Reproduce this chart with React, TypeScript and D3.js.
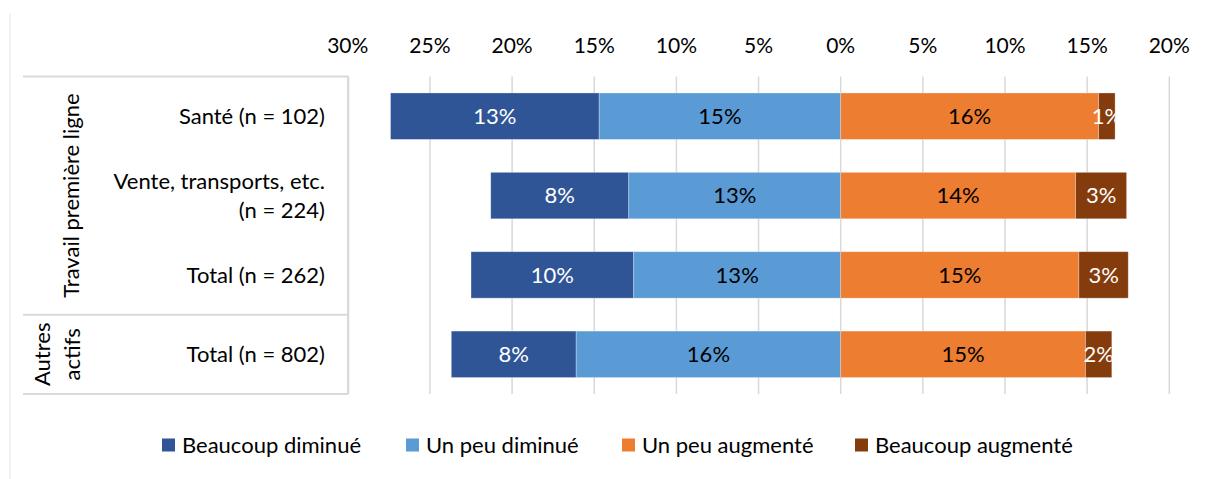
import React from "react";
import * as d3 from "d3";

const categories = ["Santé (n = 102)", "Vente, transports, etc. (n = 224)", "Total (n = 262)", "Total (n = 802)"];
const categoryLines = [["Santé (n = 102)"], ["Vente, transports, etc.", "(n = 224)"], ["Total (n = 262)"], ["Total (n = 802)"]];
const beaucoupDiminue = [12.7, 8.4, 9.9, 7.6];
const unPeuDiminue = [14.7, 12.9, 12.6, 16.1];
const unPeuAugmente = [15.7, 14.3, 14.5, 14.9];
const beaucoupAugmente = [1.0, 3.1, 3.0, 1.6];
const tickValues = [-30, -25, -20, -15, -10, -5, 0, 5, 10, 15, 20];
const seriesNames = ["Beaucoup diminué", "Un peu diminué", "Un peu augmenté", "Beaucoup augmenté"];
const colors = ["#2F5597", "#5B9BD5", "#ED7D31", "#843C0C"];
const labelColors = ["#ffffff", "#000000", "#000000", "#ffffff"];
const groups = [
  { lines: ["Travail première ligne"], from: 0, to: 3 },
  { lines: ["Autres", "actifs"], from: 3, to: 4 },
];

const FONT = "Lato, 'Open Sans', sans-serif";
const FS = 22;

export default function App() {
  const W = 1206, H = 479;
  const x = d3.scaleLinear().domain([-30, 20]).range([347.8, 1169.3]);
  const y = d3.scaleBand<string>().domain(categories).range([76.5, 394]).paddingInner(0.415).paddingOuter(0.2075);
  const bw = y.bandwidth();
  const step = y.step();
  const tableLeft = 23, tableRight = 348.3;
  const top = 76.5, bottom = 394;

  const segs: any[] = [];
  categories.forEach((c, i) => {
    const ld = unPeuDiminue[i];
    const dd = beaucoupDiminue[i];
    const la = unPeuAugmente[i];
    const da = beaucoupAugmente[i];
    segs.push({ c, i, s: 0, x0: -(ld + dd), x1: -ld, v: dd });
    segs.push({ c, i, s: 1, x0: -ld, x1: 0, v: ld });
    segs.push({ c, i, s: 2, x0: 0, x1: la, v: la });
    segs.push({ c, i, s: 3, x0: la, x1: la + da, v: da });
  });

  const legendX = [162, 406, 622, 855];

  return (
    <div style={{ position: "absolute", left: 0, top: 0 }}>
      <svg width={W} height={H} style={{ display: "block", fontFamily: FONT }}>
        <rect x={0} y={0} width={W} height={H} fill="#fff" />
        <line x1={10} x2={10} y1={14} y2={H} stroke="#e3e3e3" strokeWidth={1} />
        {tickValues.map((t) => (
          <line key={"g" + t} x1={x(t)} x2={x(t)} y1={top} y2={bottom} stroke="#d9d9d9" strokeWidth={1.5} />
        ))}
        {tickValues.map((t) => (
          <text key={"t" + t} x={x(t)} y={52.5} textAnchor="middle" fontSize={21} fill="#000">
            {Math.abs(t) + "%"}
          </text>
        ))}
        <line x1={tableLeft} x2={tableRight} y1={top} y2={top} stroke="#d9d9d9" strokeWidth={2} />
        <line x1={tableRight} x2={tableRight} y1={top} y2={bottom} stroke="#d9d9d9" strokeWidth={2} />
        <line x1={tableLeft} x2={tableRight} y1={top + 3 * step} y2={top + 3 * step} stroke="#d9d9d9" strokeWidth={2} />
        <line x1={tableLeft} x2={tableRight} y1={bottom} y2={bottom} stroke="#d9d9d9" strokeWidth={2} />
        {categories.map((c, i) => {
          const lines = categoryLines[i];
          const cy = (y(c) as number) + bw / 2;
          const lh = 29;
          return (
            <text key={"c" + i} x={325} textAnchor="end" fontSize={FS} fill="#000">
              {lines.map((l, j) => (
                <tspan key={j} x={325} y={cy + (j - (lines.length - 1) / 2) * lh} dy="0.35em">
                  {l}
                </tspan>
              ))}
            </text>
          );
        })}
        {groups.map((g, gi) => {
          const cy = top + ((g.from + g.to) / 2) * step;
          const cx = g.lines.length === 1 ? 71 : 57;
          const lh = 30;
          return (
            <text key={"gr" + gi} transform={`translate(${cx},${cy}) rotate(-90)`} textAnchor="middle" fontSize={FS} fill="#000">
              {g.lines.map((l, j) => (
                <tspan key={j} x={0} y={(j - (g.lines.length - 1) / 2) * lh} dy="0.35em">
                  {l}
                </tspan>
              ))}
            </text>
          );
        })}
        <defs>
          {segs.map((s, k) => (
            <clipPath id={"clip" + k} key={"cp" + k}>
              <rect x={x(Math.min(s.x0, s.x1)) - 40} y={(y(s.c) as number)} width={x(Math.max(s.x0, s.x1)) - x(Math.min(s.x0, s.x1)) + 40} height={bw} />
            </clipPath>
          ))}
        </defs>
        {segs.map((s, k) => (
          <rect
            key={"b" + k}
            x={x(s.x0)}
            y={y(s.c)}
            width={x(s.x1) - x(s.x0)}
            height={bw}
            fill={colors[s.s]}
            stroke="rgba(255,255,255,0.35)"
            strokeWidth={0.8}
          />
        ))}
        {segs.map((s, k) => (
          <text
            key={"l" + k}
            x={(x(s.x0) + x(s.x1)) / 2}
            y={(y(s.c) as number) + bw / 2}
            dy="0.35em"
            textAnchor="middle"
            fontSize={FS}
            fill={labelColors[s.s]}
            clipPath={s.s === 3 ? `url(#clip${k})` : undefined}
          >
            {Math.round(s.v) + "%"}
          </text>
        ))}
        {seriesNames.map((n, i) => (
          <g key={"lg" + i} transform={`translate(${legendX[i]},445)`}>
            <rect x={0} y={-6.5} width={13} height={13} fill={colors[i]} />
            <text x={20} y={0} dy="0.35em" fontSize={FS} fill="#000">
              {n}
            </text>
          </g>
        ))}
      </svg>
    </div>
  );
}
